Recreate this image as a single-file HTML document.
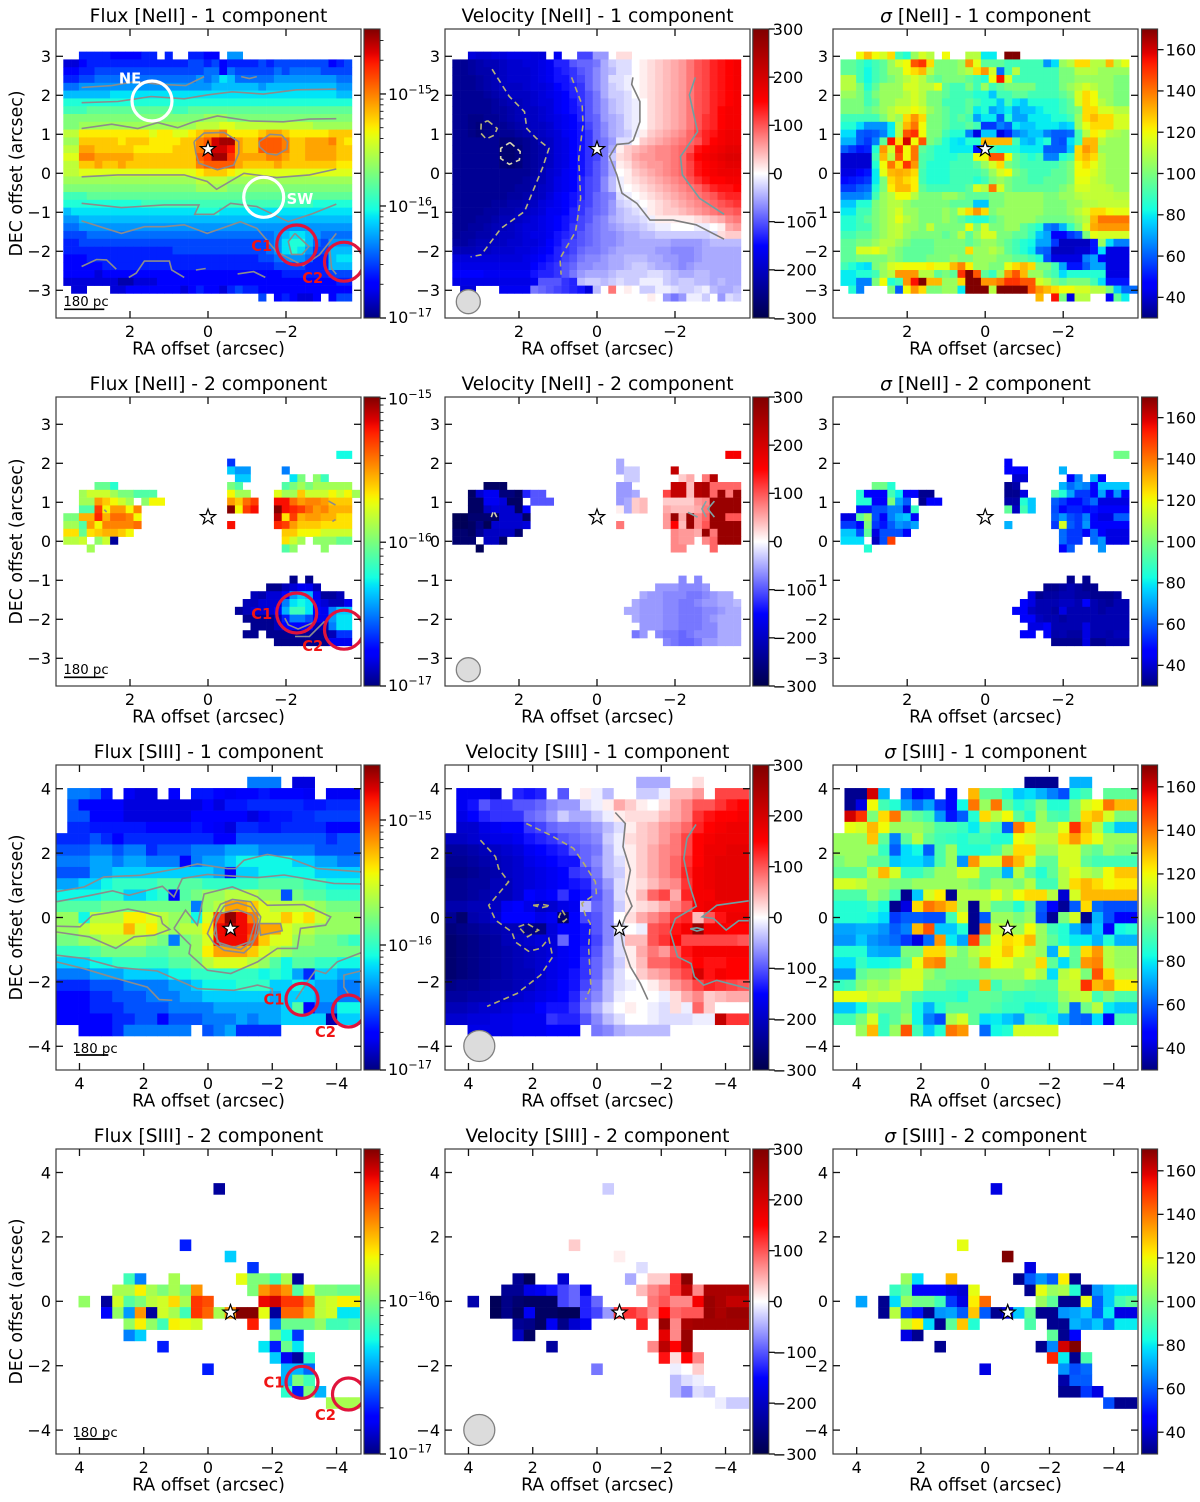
<!DOCTYPE html>
<html lang="en">
<head>
<meta charset="utf-8">
<title>[NeII] and [SIII] emission line maps</title>
<style>
html,body{margin:0;padding:0;background:#fff;}
svg{display:block;font-family:"DejaVu Sans","Liberation Sans",sans-serif;}
</style>
</head>
<body>
<svg id="chart" xmlns="http://www.w3.org/2000/svg" width="1200" height="1502" viewBox="0 0 1200 1502"></svg>
<script>
// Every heatmap row is a segment: [rowIndex, startColumn, value, value, ...]
// Flux values: tenths of a dex above 1e-17. Velocity values: units of 10 km/s. Sigma values: km/s.
const fluxNe1 = [
[0,2,4,4,4,4,3,3,3,3,4,4],[0,13,4],[0,16,4,4,3,3],[0,21,7,7],
[1,0,2,2,3,4,4,4,4,4,4,4,4,4,4,4,4,4,5,5,4,5,3,4,4,4,4,5,4,5,5,5,5,5,5,5,3,4,5],
[2,0,3,3,4,4,5,5,5,5,5,5,5,5,5,5,5,5,5,5,6,6,3,6,5,5,5,5,5,6,5,6,6,6,6,5,5,5,5],
[3,0,4,4,5,5,6,6,6,6,6,6,6,6,6,6,6,6,6,7,6,7,9,8,6,6,6,6,6,7,7,7,7,7,7,7,7,6,6],
[4,0,6,6,7,7,7,7,7,7,7,7,7,7,7,7,7,7,7,7,7,8,8,8,8,8,8,7,8,8,8,8,8,8,8,8,8,7,7],
[5,0, 8,8,8,8,8, 8,9,9,9,9, 9,9,9,9,9, 9,9,9,9,9, 9,9,9,9,9, 9,9,9,9,9, 9,9,9,9,9, 8,8],
[6,0, 10,10,10,10,10, 10,10,10,10,10, 10,10,10,10,10, 10,10,10,10,10, 10,10,10,10,10, 10,10,10,10,10, 10,10,10,10,10, 10,10],
[7,0, 11,11,11,12,12, 12,12,12,12,12, 12,12,12,12,11, 11,12,12,12,12, 12,12,12,12,12, 12,12,12,12,12, 12,12,12,12,12, 12,12],
[8,0, 13,13,13,13,13, 13,13,13,13,13, 13,13,13,13,13, 13,13,13,14,14, 14,13,13,13,13, 13,13,13,13,13, 13,13,13,13,13, 13,13],
[9,0,13,13,14,14,14,14,14,14,14,14,14,14,14,14,14,14,14,15,15,15,16,16,15,15,15,15,15,15,15,15,15,15,14,14,14,14,14],
[10,0,15,15,17,17,17,17,17,17,17,17,17,16,17,17,16,16,17,18,19,19,20,17,17,17,17,18,19,19,18,17,17,17,17,17,18,18,18],
[11,0,14,14,18,18,18,18,18,17,18,18,18,17,17,17,17,18,18,20,21,24,25,25,19,18,18,21,21,21,20,18,18,19,19,19,20,18,17],
[12,0,15,15,19,19,18,18,18,18,18,17,17,17,17,17,18,18,18,20,22,24,24,23,19,18,18,21,21,21,20,18,18,19,19,19,19,18,18],
[13,0,16,16,20,20,19,19,19,19,19,18,18,18,18,18,18,18,18,21,22,25,25,22,19,19,19,19,20,20,19,18,18,19,19,19,19,18,18],
[14,0,15,15,18,18,19,18,18,19,18,18,18,18,18,18,18,18,18,20,21,21,21,21,19,18,18,18,18,19,18,18,18,18,18,18,18,17,17],
[15,0, 15,15,16,16,16, 16,16,16,16,16, 16,16,16,16,16, 16,16,17,18,18, 18,17,16,16,16, 16,16,16,16,16, 16,16,16,16,16, 16,16],
[16,0, 14,14,14,14,14, 14,14,14,14,14, 14,14,14,14,14, 14,14,15,15,15, 15,14,14,14,14, 14,14,14,14,14, 14,14,14,14,14, 14,14],
[17,0, 13,13,13,13,13, 13,13,13,13,13, 13,13,13,13,13, 13,13,14,14,14, 14,13,13,13,13, 13,13,13,13,13, 13,13,13,13,13, 13,13],
[18,0, 11,11,11,12,12, 12,12,12,12,12, 12,12,12,12,12, 12,12,12,12,12, 12,12,12,12,12, 12,12,12,12,12, 12,12,12,12,12, 12,12],
[19,0, 10,10,10,10,10, 10,10,10,10,10, 11,11,11,11,11, 11,11,11,11,11, 11,11,11,11,11, 11,11,11,11,11, 11,11,10,10,10, 10,10],
[20,0, 8,9,9,9,9, 9,9,9,9,9, 9,9,9,9,9, 9,9,10,10,10, 9,9,9,9,9, 9,9,9,9,9, 9,9,9,9,9, 9,9],
[21,0, 7,7,8,8,8, 8,8,8,8,8, 8,8,8,8,8, 8,8,8,8,8, 8,8,8,8,8, 8,8,8,8,8, 8,8,8,8,8, 8,8],
[22,0, 6,6,7,7,7, 7,7,7,7,7, 7,7,7,7,7, 7,7,7,7,7, 7,7,7,7,7, 7,7,7,7,7, 7,7,7,7,7, 7,7],
[23,0,5,5,5,6,6,6,6,6,6,6,6,6,6,6,6,6,6,6,6,6,6,6,6,6,6,6,6,7,8,9,9,8,7,6,6,6,6],
[24,0,4,4,5,5,5,5,5,5,5,5,5,5,5,5,5,5,5,5,5,5,5,5,5,5,5,5,6,7,9,10,10,8,6,5,7,7,7],
[25,0,4,4,4,4,4,4,4,4,4,4,4,4,4,4,5,5,5,5,5,5,5,5,5,5,5,5,6,7,9,10,9,7,5,5,8,8,8],
[26,0,3,3,3,4,4,4,4,4,4,4,4,4,4,4,4,4,4,4,4,4,4,4,4,4,4,5,5,6,7,7,7,6,4,4,8,9,9],
[27,0,3,3,3,3,3,4,4,4,4,4,4,4,4,4,4,4,4,4,4,4,4,4,4,4,4,4,4,5,5,5,5,4,4,4,8,8,8],
[28,0,3,3,3,3,2,3,3,3,3,3,3,3,3,3,3,3,3,3,3,3,3,3,3,3,3,3,3,3,4,4,4,4,4,4,5,5,5],
[29,0,2,2,2,2,2,2,2,1,1,2,2,2,3,3,3,3,3,3,3,3,3,3,3,3,3,3,3,3,3,3,3,3,3,3,3,4,4],
[30,1,2,2],[30,6,2,2,3,3,3,3,3,3,3,2,3,4,3,3,2],[30,21,4,5,4,4,3,3,3,3,3,3,3,3,3,3,3,3],
[31,25,5],[31,27,3,4,3,2,2,3],[31,34,3,5,5]
];
const velNe1 = [
[0,2,-18,-19,-19,-18,-18,-17,-17,-17,-18,-18],[0,13,-16],[0,16,-11,-11,-6,-6],[0,21,2,2],
[1,0,-24,-24,-23,-22,-21,-21,-20,-19,-19,-18,-18,-17,-16,-13,-13,-10,-9,-9,-8,-5,-3,-2,-2,0,1,2,3,4,5,6,8,10,11,13,14,15,16],
[2,0,-24,-24,-23,-22,-22,-21,-20,-19,-19,-19,-18,-17,-16,-14,-13,-12,-10,-9,-7,-5,-4,-2,-2,0,1,2,3,4,5,6,8,10,11,13,14,15,16],
[3,0,-24,-24,-24,-23,-22,-21,-20,-19,-19,-19,-18,-17,-16,-14,-14,-12,-11,-9,-7,-5,-2,-2,-1,0,1,2,3,4,5,6,8,10,11,13,14,15,16],
[4,0,-24,-24,-24,-23,-22,-21,-20,-20,-20,-19,-18,-18,-17,-15,-14,-13,-12,-9,-7,-5,-3,-2,-1,0,1,2,3,4,5,6,8,10,11,13,14,15,16],
[5,0,-24,-24,-24,-24,-23,-22,-21,-20,-20,-20,-19,-18,-17,-16,-15,-13,-12,-10,-8,-5,-3,-3,-2,0,1,2,3,4,5,6,8,10,11,13,14,15,16],
[6,0,-24,-24,-24,-24,-24,-23,-22,-21,-21,-20,-19,-18,-18,-16,-15,-14,-12,-10,-8,-6,-4,-3,-2,-1,0,2,3,4,5,6,8,10,11,13,14,15,16],
[7,0,-24,-24,-24,-24,-24,-23,-23,-22,-21,-20,-20,-19,-18,-16,-15,-14,-13,-10,-8,-6,-4,-3,-2,-1,0,2,3,4,5,6,8,10,11,13,15,16,16],
[8,0,-24,-24,-25,-25,-24,-24,-23,-22,-21,-20,-20,-19,-18,-17,-16,-15,-13,-10,-9,-6,-5,-4,-2,-1,0,2,3,4,5,6,8,10,12,13,15,16,16],
[9,0,-24,-24,-25,-26,-25,-24,-24,-23,-22,-21,-20,-20,-19,-17,-16,-15,-14,-11,-9,-7,-5,-4,-2,-1,0,2,3,4,5,6,8,10,12,13,15,16,16],
[10,0,-24,-24,-25,-26,-25,-24,-24,-24,-23,-22,-21,-20,-19,-18,-16,-15,-14,-12,-9,-7,-5,-4,-3,-1,1,3,4,5,6,7,9,11,13,14,16,17,17],
[11,0,-24,-24,-24,-24,-24,-24,-26,-26,-25,-24,-23,-21,-20,-18,-17,-15,-14,-12,-9,-8,-6,-2,-2,0,3,4,5,6,7,8,9,10,13,15,16,17,17],
[12,0,-24,-24,-24,-24,-24,-24,-27,-27,-26,-24,-23,-22,-20,-18,-17,-15,-14,-12,-9,-8,-5,1,3,4,5,6,7,7,8,9,10,14,15,16,17,18,18],
[13,0,-24,-24,-24,-24,-24,-24,-27,-27,-26,-24,-23,-22,-20,-18,-17,-15,-14,-12,-11,-8,-3,2,3,5,6,6,7,7,8,9,12,15,16,17,18,19,19],
[14,0,-24,-24,-24,-24,-24,-24,-26,-27,-26,-24,-23,-22,-20,-18,-17,-15,-14,-12,-10,-8,-5,1,2,4,5,6,6,7,8,9,11,14,15,16,17,18,18],
[15,0,-24,-24,-24,-24,-24,-24,-24,-24,-24,-24,-23,-21,-19,-18,-16,-15,-14,-12,-10,-8,-5,0,1,3,4,5,6,7,8,9,11,14,15,16,17,17,17],
[16,0,-24,-24,-24,-24,-24,-24,-24,-24,-24,-23,-22,-21,-19,-17,-16,-15,-13,-11,-10,-7,-4,-1,1,2,3,4,5,6,7,8,10,12,14,15,15,16,16],
[17,0,-24,-24,-24,-24,-24,-24,-24,-24,-23,-23,-22,-20,-19,-17,-16,-15,-13,-11,-10,-7,-4,-1,0,1,2,3,4,5,6,7,8,9,11,13,14,14,15],
[18,0,-24,-24,-24,-24,-24,-24,-24,-23,-23,-22,-21,-20,-18,-16,-15,-14,-13,-11,-9,-8,-7,-2,-1,0,1,2,3,4,5,6,7,8,9,10,12,13,13],
[19,0,-24,-24,-24,-24,-24,-23,-23,-22,-22,-21,-20,-18,-17,-16,-15,-14,-12,-11,-9,-8,-6,-3,-2,-1,0,1,2,3,4,5,6,7,8,9,10,11,12],
[20,0,-24,-24,-24,-24,-23,-23,-22,-22,-21,-20,-19,-18,-16,-16,-15,-13,-12,-10,-9,-8,-6,-4,-3,-2,-1,1,2,3,3,4,5,6,7,8,9,9,10],
[21,0,-24,-24,-24,-23,-23,-22,-21,-21,-20,-19,-18,-17,-16,-15,-14,-13,-11,-10,-8,-7,-5,-4,-3,-3,-2,-1,1,1,1,1,1,2,3,4,5,7,8],
[22,0,-24,-24,-23,-23,-22,-21,-21,-20,-19,-18,-18,-17,-16,-15,-14,-12,-11,-9,-8,-7,-6,-5,-4,-4,-3,-2,-1,-1,0,0,0,-1,-1,0,1,5,6],
[23,0,-24,-23,-23,-22,-22,-21,-20,-20,-19,-18,-17,-17,-16,-14,-13,-12,-10,-9,-8,-7,-7,-6,-5,-5,-4,-4,-3,-3,-3,-3,-3,-3,-3,-2,2,3,3],
[24,0,-23,-23,-22,-21,-21,-20,-20,-19,-19,-18,-18,-17,-15,-14,-12,-11,-10,-9,-8,-7,-7,-6,-5,-5,-5,-5,-5,-5,-6,-6,-6,-6,-5,-4,-4,-4,-4],
[25,0,-21,-21,-21,-20,-20,-19,-19,-19,-18,-18,-17,-16,-15,-13,-12,-11,-9,-8,-8,-7,-6,-5,-5,-5,-5,-5,-6,-6,-7,-7,-7,-6,-5,-5,-5,-5,-5],
[26,0,-18,-18,-18,-18,-18,-18,-18,-18,-18,-17,-16,-15,-14,-13,-11,-10,-8,-7,-7,-6,-5,-5,-4,-4,-4,-5,-5,-6,-6,-7,-7,-6,-5,-5,-5,-5,-5],
[27,0,-17,-17,-17,-17,-17,-17,-17,-17,-17,-17,-15,-14,-13,-12,-10,-9,-7,-7,-6,-6,-5,-5,-4,-3,-3,-4,-5,-5,-6,-7,-6,-5,-5,-5,-5,-5,-5],
[28,0,-15,-15,-15,-15,-16,-16,-16,-16,-16,-16,-14,-13,-13,-12,-10,-8,-6,-5,-5,-5,-4,-3,-3,-3,-3,-2,-2,-3,-4,-5,-5,-4,-4,-5,-5,-5,-5],
[29,0,-17,-17,-17,-17,-17,-17,-17,-17,-17,-17,-16,-10,-10,-10,-12,-13,-4,-3,-3,-4,-3,-2,-3,-3,-1,-1,-1,-3,-4,-3,-3,-4,-4,-5,-4,-5,-5],
[30,1,-18,-18],[30,6,-16,-16,-16,-16,-8,-9,-10,-11,-12,-13,-14,-18,-4],[30,20,8,0,1,0,-3,-3,-1,-1,-2,-3,-3,-2,-1,-4,-5,-5,-4],
[31,25,1],[31,27,-6,-8,-6,-1,-1,-3],[31,34,-6,-2,-3]
];
const sigNe1 = [
[0,2,120,130,120,115,125,90,85,105,115,110],[0,13,120],[0,16,110,110,80,80],[0,21,170,170],
[1,0,95,95,90,85,90,95,105,115,120,145,150,125,100,100,100,105,135,118,95,95,95,90,90,90,90,90,68,78,105,110,125,125,110,110,130,110,118],
[2,0,95,95,90,82,90,95,105,105,120,125,130,110,100,100,100,105,110,125,135,115,62,90,110,90,90,90,90,90,100,100,110,110,110,105,105,105,105],
[3,0,110,110,90,82,90,95,100,105,110,115,110,100,95,100,100,100,95,90,85,120,155,115,90,90,90,90,90,90,100,100,105,105,105,105,105,100,100],
[4,0,110,110,100,85,95,105,105,105,115,115,110,110,118,95,90,90,100,90,105,90,95,100,100,100,100,90,90,90,100,105,110,115,110,105,105,100,100],
[5,0,105,105,100,90,100,105,105,105,110,115,110,100,100,95,90,90,90,85,85,75,90,90,95,95,90,90,90,90,95,100,115,125,120,105,105,100,100],
[6,0,100,100,100,90,95,105,105,110,110,115,110,100,100,90,90,90,95,90,85,85,75,90,80,75,85,85,85,85,90,95,115,125,120,110,105,100,100],
[7,0,100,100,100,95,100,105,110,115,115,120,115,105,100,95,90,90,95,80,85,70,75,80,70,75,75,80,85,85,90,95,100,125,125,115,115,110,110],
[8,0,90,90,90,90,90,100,110,105,125,135,125,100,100,95,90,95,90,70,80,80,60,85,70,70,80,80,80,85,85,90,105,125,130,125,125,115,115],
[9,0,85,85,78,68,68,68,80,110,130,140,120,100,100,95,90,90,95,90,55,55,65,60,80,75,75,80,80,80,75,78,105,118,125,125,125,115,115],
[10,0,78,78,60,58,60,65,80,110,145,150,120,100,100,90,85,85,65,42,75,75,42,52,65,70,75,75,65,60,60,62,90,110,122,118,110,108,105],
[11,0,72,72,60,55,65,95,155,125,160,120,145,100,95,85,80,78,85,85,130,130,130,130,90,75,72,80,85,60,58,78,90,130,130,110,105,105,105],
[12,0,60,55,50,52,85,135,115,150,120,140,95,90,85,85,80,80,80,50,50,90,85,85,85,80,80,80,60,60,60,75,125,135,130,105,105,105,105],
[13,0,40,40,40,40,90,130,110,145,120,140,92,90,85,85,85,90,90,120,120,145,145,120,95,90,85,90,65,65,85,90,125,130,125,110,105,105,105],
[14,0,40,40,40,40,85,120,140,125,150,135,92,85,85,85,90,90,90,95,105,115,125,100,95,90,90,90,90,90,95,100,120,125,118,110,105,105,105],
[15,0,42,42,45,50,80,118,130,132,130,125,90,85,85,85,90,90,90,90,95,105,115,120,100,95,90,90,90,95,95,100,120,120,115,110,105,105,105],
[16,0,48,50,52,55,80,100,125,130,125,122,90,85,85,85,90,90,90,85,90,100,105,100,95,95,90,90,95,95,95,100,118,118,112,110,105,105,105],
[17,0,55,55,60,62,85,100,122,130,130,122,95,90,90,90,90,90,95,115,110,140,115,100,95,95,95,95,95,95,100,105,115,115,112,112,110,105,105],
[18,0,65,65,65,68,90,105,110,120,120,110,100,100,100,105,105,100,95,95,95,100,100,105,105,105,105,105,100,100,105,105,110,112,112,112,112,110,110],
[19,0,75,75,85,85,100,105,110,110,105,100,100,100,100,100,95,95,95,75,75,100,100,105,105,105,105,105,100,100,100,105,105,110,110,112,112,112,112],
[20,0,80,80,90,90,100,105,110,115,105,105,100,100,100,105,100,115,125,135,125,100,105,105,105,105,105,105,100,100,100,105,110,115,125,125,120,118,118],
[21,0,85,85,90,95,100,105,110,118,110,105,100,100,100,105,100,95,88,85,85,95,100,105,105,105,105,100,98,98,98,100,105,110,130,140,140,140,140],
[22,0,85,85,90,90,100,105,110,112,105,105,100,112,100,100,100,100,120,100,115,100,100,105,105,95,90,85,65,62,72,88,100,115,132,135,135,135,135],
[23,0,90,90,95,95,100,105,110,112,105,100,100,100,100,95,100,110,95,105,115,115,100,100,95,95,88,75,70,45,45,55,60,100,118,115,115,115,115],
[24,0,95,95,100,100,105,110,110,105,100,95,95,95,100,100,100,100,95,100,105,105,100,95,90,85,82,70,70,55,38,38,38,38,50,105,78,65,65],
[25,0,95,95,115,115,118,112,105,100,95,95,95,95,100,100,100,100,125,105,105,110,105,95,90,85,80,62,60,38,38,38,40,40,50,78,42,42,42],
[26,0,95,95,100,100,100,100,105,100,95,95,95,100,100,100,105,100,100,105,105,105,100,100,95,95,90,85,58,42,42,42,42,65,70,45,42,42,42],
[27,0,90,85,80,78,100,105,115,118,120,120,120,122,118,118,130,138,122,105,105,100,100,118,125,130,125,100,100,90,70,50,50,60,70,70,42,42,42],
[28,0,80,80,85,85,90,105,110,135,135,135,110,110,95,100,95,150,170,145,95,88,105,135,145,130,105,105,95,90,78,85,85,85,85,85,42,42,42],
[29,0,80,80,65,65,100,120,85,90,135,155,170,130,130,105,105,125,170,170,135,135,140,150,150,145,145,115,110,100,95,100,100,100,90,78,50,50,50],
[30,1,85,65],[30,6,100,60,120,135,125,100,100,105,105,80,170,170,170,110],[30,20,170,170,170,170,145,135,130,125,120,120,115,115,110,110,100,75,62,62,62],
[31,25,130],[31,27,155,100,42,110,110],[31,34,45,95,80]
];
const fluxNe2 = [
[4,35,7.5,7.5],[5,21,3.5],[6,21,6.5,5.5,5.5],[6,28,5],[7,22,6.5,6.5],[7,29,7,10],[7,32,10.5,8.5],
[8,4,9.5,9.5,8],[8,21,10,9],[8,28,9,10,11,10,11,11,11,11,11],
[9,2,11,12,12,12,11,10,10],[9,9,9,9,9],[9,21,13,11,11],[9,27,12.5,11,11,14,12,12,12,13,12,13,11],
[10,2,11,11,15,14,13,12,11],[10,10,10.5,13,13],[10,21,15,14,16,17],[10,27,18,18,16,15,15.5,15.5,15,14,14,14],
[11,2,9,9,17,13,15,15,13,15.5],[11,21,20,13,17,18],[11,27,20,18,17.5,17,16,15,15.5,14.5,14.5,14.5],
[12,0,10,10,14.5,14.5,17.5,14.5,16,16,15.5,13],[12,27,19,13.5,17,14.5,15,15,14.5,14.5,13.5,13.5],
[13,0,11,11,9,15,13,15.5,15.5,15.5,15.5,16],[13,21,18],[13,27,17.5,17,15,14,14,14,13.5,13.5,13.5,13.5],
[14,0,13.5,13.5,9.5,13.5,14,14.5,14.5,14,13],[14,28,14,14,13,13,13,12,12,12,12],
[15,0,11.5,11.5,12],[15,4,10.5,12,0.5],[15,28,13.5,12,11],[15,32,10.5,10.5,10.5,9.5,9.5],
[16,3,11],[16,28,9,10.5],[16,33,10.5],
[20,29,0.2],[20,31,0.2],[21,26,0.2,0.2,1,1.5,2,2,1],[22,24,1,0.8,1.5,1.5,2.5,5.5,6.5,6,2,0.5,0.5,1],
[23,23,1,1,1.5,1.5,1.5,5,7,7.5,7,2,1.5,1,1,2],
[24,22,0.5,1,1.5,1.5,1.5,2.5,6,8.5,8.5,7,2.5,2,5,6.5,6.5],
[25,23,0.3,0.3,0.3,0.3,1,3,5,5,4,2,2,5.5,7,7],
[26,24,0.3,0.3,0.3,1,2.5,2.5,2.5,2.5,1,1,5,7,7],
[27,23,0.3,0.3],[27,26,0.3,0.3,0.3,0.3,0.3,0.5,0.3,0.3,1,3.5,3.5],
[28,27,0.2,0.2,0.2,0.2,0.2,0.2,0.2,2,2,2]
];
const velNe2 = [
[4,35,16,16],[5,21,-5],[6,21,-5,-3,-3],[6,28,22],[7,22,-3,-3],[7,29,3,5],[7,32,8,24],
[8,4,-28,-28,-28],[8,21,-6,-6],[8,28,22,22,4,24,25,9,9,9,9],
[9,2,-28,-19,-16,-16,-26,-26,-28],[9,9,-13,-10,-10],[9,21,-6,-6,-5],[9,27,11,22,22,4,24,25,9,27,8,27],
[10,2,-28,-28,-16,-16,-18,-28,-28],[10,10,-10,-10,-10],[10,21,-6,-5,3,4],[10,27,3,3,3,3,6,7,27,27,27,27],
[11,2,-28,-28,-20,-18,-19,-19,-28,-15],[11,21,1,-5,3,4],[11,27,5,4,4,4,5,8,27,27,27,27],
[12,0,-29,-29,-27,-27,-27,-28,-19,-19,-19,-28],[12,27,6,27,5,27,7,9,27,27,10,10],
[13,0,-29,-29,-28,-25,-29,-19,-19,-19,-19,-18],[13,21,8],[13,27,6,15,4,27,7,10,27,27,27,27],
[14,0,-27,-27,-28,-24,-20,-20,-20,-20,-27],[14,28,7,6,6,5,27,8,27,27,27],
[15,0,-27,-27,-27],[15,4,-20,-20,-28],[15,28,7,6,6],[15,32,7,9,27,27,27],
[16,3,-29],[16,28,7,7],[16,33,9],
[20,29,-7],[20,31,-7],[21,26,-6,-6,-6,-7,-7,-7,-6],[22,24,-5,-6,-6,-7,-7,-7,-8,-8,-7,-6,-5,-5],
[23,23,-5,-6,-6,-6,-7,-7,-8,-8,-7,-6,-6,-5,-5,-4],
[24,22,-5,-5,-6,-6,-6,-7,-7,-8,-8,-8,-7,-7,-6,-5,-5],
[25,23,-5,-6,-6,-6,-7,-7,-8,-8,-8,-7,-6,-5,-5,-5],
[26,24,-6,-6,-6,-7,-7,-8,-8,-8,-7,-7,-5,-5,-5],
[27,23,-8,-6],[27,26,-7,-8,-8,-9,-8,-7,-7,-7,-5,-5,-5],
[28,27,-7,-8,-9,-9,-8,-6,-6,-5,-5,-5]
];
const sigNe2 = [
[4,35,98,98],[5,21,45],[6,21,47,47,47],[6,28,72],[7,22,40,40],[7,29,47,65],[7,32,72,47],
[8,4,98,98,85],[8,21,32,35],[8,28,72,62,68,65,48,75,75,75,75],
[9,2,85,47,45,45,90,80,45],[9,9,47,32,32],[9,21,32,32,42],[9,27,92,85,70,55,55,45,70,45,68,45],
[10,2,85,85,45,45,100,70,60],[10,10,32,45,45],[10,21,35,35,85,75],[10,27,60,55,48,48,55,62,42,42,42,42],
[11,2,50,50,58,58,65,65,42,88],[11,21,95,38,90,75],[11,27,58,45,52,52,48,50,45,45,45,45],
[12,0,42,42,95,105,58,45,65,72,75,45],[12,27,60,68,58,55,65,45,42,42,60,60],
[13,0,55,55,45,100,55,50,60,68,65,70],[13,21,72],[13,27,55,115,60,55,68,45,45,45,45,45],
[14,0,75,75,58,95,42,58,58,58,45],[14,28,62,55,55,45,62,45,42,42,42],
[15,0,78,78,78],[15,4,38,58,148],[15,28,62,55,55],[15,32,62,68,42,42,42],
[16,3,85],[16,28,45,60],[16,33,68],
[20,29,32],[20,31,32],[21,26,32,32,34,36,34,32,32],[22,24,42,32,34,34,36,36,34,34,32,32,32,34],
[23,23,45,42,36,36,36,38,38,36,45,36,34,33,36,36],
[24,22,45,45,38,36,36,34,42,36,36,36,36,34,36,36,36],
[25,23,45,45,38,36,36,34,36,36,36,36,36,36,36,36],
[26,24,42,42,45,36,36,36,36,42,36,36,36,36,36],
[27,23,45,45],[27,26,45,35,36,34,34,42,36,36,35,37,37],
[28,27,32,32,32,32,42,32,32,35,35,35]
];
const fluxS1 = [
[0,17,6,6,6],[0,21,2,2],
[1,1,6,6,5.5,3.5],[1,6,2.5,2,2],[1,10,3],[1,12,3.5,3.5,3,2.5,3,3,3.5,3,3,3,2.5],[1,24,2.5,2.5,2.5],
[2,1,5,3,3,3,3,2,2,2,2,2,2,2,3,2,3.5,3.5,4,4,4,4,4,3.5,3.5,4,4,4],
[3,1,5,5,3,3,3,2,2,2,2,2,2,3,3,3,3,3,2,3,3.5,3.5,4,4,4.5,4.5,4.5,4.5],
[4,1,4,4,3.5,3.5,3.5,3.5,3.5,3,3,3,3,3.5,3,2.5,2,4,4,3.5,3.5,4,4,4,4,3,3,3],
[5,0,4,4,4,5,4,3,4,4,4,4,4,4,4,4,3,3,5,5,5,5,5,5,5,5,4,5,5],
[6,0,5,5,5,6,6,5,6,6,4,5,5,5,6,6,6,7,7,7,6,6,6,6,6,5,5,5,5],
[7,0,6,6,6,7,7,6,7,7,6,6,6,3,6,7,7,8,9,9,9,9,9,8,8,7,7,6,6],
[8,0,5,5,5,7,7,8,8,8,8,8,8,8,8,8,7,3,8,8,9,9,9,9,9,8,8,8,8],
[9,0,7,7,8,8,9,10,10,10,10,11,11,11,11,10,10,10,10,10,11,11,11,11,10,10,9,9,9],
[10,0,9,9,9,9,10,10,8,8,9,10,3,11,12,13,13,14,14,14,13,13,5,12,11,11,10,10,10],
[11,0,11,11,11,11,12,12,12,12,12,12,12,12,6,13,14,18,18,17,15,14,14,14,14,13,12,12,12],
[12,0,13,13,9,14,14,14,16,16,15,14,13,13,9,15,21,24,22,19,15,15,17,15.5,16.5,14.5,13,13,13],
[13,0,13,13,14,15,15,15,17.5,15,16,14,13,14,14,16,22,23,22,21,18,18,15,14,14,13,13,13,13],
[14,0,12,12,13,13,14,14,14,14,13,12,6,12,13,15,22,22,22,20,17,15,15,13,13,12,12,11,10],
[15,0,10,10,10,11,12,12,12,12,11,11,12,12,13,16,18,18,18,17,15,14,13,12,12,12,12,12,12],
[16,0,8,8,8,9,9,10,10,10,10,10,11,11,12,14,15,15,15,14,13,11,9,11,11,10,10,9,9],
[17,0,6,6,6,7,7,7,8,8,8,8,9,9,10,10,10,10,10,10,9,10,9,7,4,8,8,7,7],
[18,0,4,4,4,5,5,5,6,6,6,6,7,7,8,9,9,9,10,10,10,8,8,9,8,7,7,6,6],
[19,0,3,3,3,4,4,5,5,5,6,6,6,7,7,8,8,8,8,8,8,7,8,8,8,7,7,6,6],
[20,0,3,3,3,4,4,4,5,5,5,5,6,6,6,6,7,7,7,7,7,7,8,11,3,6,6,9,9],
[21,0,3,3,3,3,3,4,4,5,5,3,5,5,5,6,6,6,7,6,7,7,8,8,8,8,1,8,8],
[22,2,3,3,3,4,6,6,6,6,6,6],[22,13,5,6,7,4,4,4,4]
];
const velS1 = [
[0,17,-5,-5,-5],[0,21,0,2],
[1,1,-16,-16,-16,-19],[1,6,-13,-14,-13],[1,10,-10],[1,12,1,-1,-4,0,0,-3,-3,-1,4,4,6],[1,24,11,11,11],
[2,1,-16,-14,-10,-12,-12,-10,-10,-9,-7,-6,-6,-2,-1,1,5,3,1,0,2,5,7,10,10,12,14,15],
[3,1,-17,-15,-13,-12,-12,-12,-9,-8,-6,-3,-5,-5,-3,-1,1,2,2,2,4,5,7,12,14,15,15,16],
[4,1,-19,-19,-17,-16,-15,-15,-12,-11,-9,-8,-8,-7,-6,-4,-2,1,3,4,6,7,9,13,15,16,17,17],
[5,0,-20,-20,-19,-18,-17,-17,-16,-14,-13,-12,-10,-9,-8,-7,-3,-1,2,3,4,6,8,11,15,16,17,17,17],
[6,0,-23,-23,-22,-21,-20,-19,-18,-16,-15,-14,-13,-10,-9,-8,-4,-1,1,3,5,7,8,11,15,17,17,18,18],
[7,0,-24,-24,-23,-22,-21,-20,-19,-17,-16,-15,-14,-14,-9,-7,-4,-2,1,3,5,7,9,12,15,17,18,18,18],
[8,0,-25,-25,-24,-23,-22,-20,-19,-18,-17,-16,-15,-12,-11,-8,-4,-3,1,3,5,7,9,13,16,17,18,18,18],
[9,0,-24,-24,-23,-23,-21,-21,-19,-18,-17,-16,-15,-14,-13,-9,-6,-2,1,2,4,6,7,12,16,17,18,18,18],
[10,0,-24,-24,-23,-22,-21,-21,-19,-15,-16,-15,-12,-15,-14,-10,-7,-2,1,4,9,11,5,13,16,16,18,18,18],
[11,0,-22,-22,-21,-21,-20,-16,-15,-17,-20,-19,-17,-16,-4,-9,-7,-3,1,2,3,5,7,10,16,17,16,16,16],
[12,0,-24,-27,-22,-21,-19,-15,-15,-15,-17,-16,-27,-15,-11,-10,-7,0,2,5,7,9,12,13,4,10,14,17,17],
[13,0,-26,-25,-24,-23,-22,-21,-21,-25,-25,-18,-15,-15,-14,-10,-7,-2,0,-1,10,11,14,16,27,16,16,15,15],
[14,0,-27,-26,-25,-24,-23,-21,-20,-19,-18,-18,-9,-15,-14,-11,-7,-2,4,4,10,12,15,11,11,11,11,11,10],
[15,0,-27,-26,-25,-24,-23,-22,-21,-20,-19,-18,-16,-15,-13,-10,-6,-2,1,5,8,6,10,14,16,16,16,16,16],
[16,0,-27,-26,-25,-24,-23,-22,-21,-20,-19,-17,-16,-15,-12,-9,-6,-3,1,4,9,9,11,13,15,14,14,15,15],
[17,0,-27,-26,-25,-24,-23,-22,-21,-21,-19,-17,-16,-14,-12,-9,-5,-2,0,3,5,6,9,11,20,14,16,15,15],
[18,0,-25,-24,-24,-23,-22,-22,-21,-20,-18,-17,-15,-14,-11,-8,-4,-2,-1,0,1,3,6,8,11,13,12,11,10],
[19,0,-23,-23,-22,-22,-21,-20,-19,-18,-17,-16,-15,-13,-9,-7,-4,-1,0,0,0,-1,2,5,7,3,4,5,5],
[20,0,-21,-21,-20,-19,-19,-18,-17,-17,-15,-14,-14,-12,-8,-5,-2,0,1,0,-1,-2,2,-1,9,3,0,0,0],
[21,0,-19,-19,-18,-18,-17,-17,-16,-16,-16,-12,-13,-13,-10,-7,-4,-2,0,0,-1,-2,-2,-2,-1,-1,22,12,12],
[22,2,-17,-17,-17,-17,-16,-16,-16,-15,-15,-15],[22,13,-8,-7,-5,-4,-4,-4,-4]
];
const sigS1 = [
[0,17,32,32,32],[0,21,72,72],
[1,1,32,32,160,72],[1,6,60,45,50],[1,10,45],[1,12,130,95,95,85,75,78,72,65,58,85,90],[1,24,95,95,95],
[2,1,32,42,120,90,85,70,62,70,55,48,82,140,105,140,95,85,90,100,85,85,100,115,120,140,130,130],
[3,1,160,150,100,125,140,100,95,90,68,50,60,85,125,110,120,95,85,105,92,90,100,125,130,115,100,100],
[4,1,118,115,130,120,105,105,105,100,92,92,88,80,95,90,60,140,125,105,105,118,150,130,110,88,75,75],
[5,0,105,105,105,128,95,65,95,110,95,90,88,85,90,90,85,85,120,115,110,110,125,135,125,118,105,105,105],
[6,0,105,105,105,105,88,60,78,82,60,92,105,85,85,85,92,105,125,125,105,105,115,115,100,95,105,100,100],
[7,0,100,105,105,95,95,75,78,78,72,92,105,68,135,115,115,140,130,115,95,95,115,115,95,90,90,90,90],
[8,0,95,95,95,110,130,115,88,88,95,105,105,115,115,95,95,72,110,95,85,95,110,118,110,105,120,128,128],
[9,0,115,115,112,105,105,100,100,105,105,105,105,105,100,95,105,105,100,110,90,90,110,125,130,125,120,122,122],
[10,0,92,92,92,105,100,90,32,75,115,122,32,110,110,110,118,108,120,125,125,110,40,115,130,130,130,130,130],
[11,0,85,85,85,90,82,32,42,125,140,135,128,108,32,108,95,95,85,100,60,45,33,60,125,62,58,58,58],
[12,0,85,85,85,82,78,55,60,60,58,58,90,118,32,60,105,105,100,105,58,33,100,115,32,72,58,45,45],
[13,0,70,70,72,72,68,60,65,130,145,75,75,85,32,140,112,110,105,120,105,90,85,72,62,75,45,82,85],
[14,0,68,68,75,68,65,62,55,42,62,135,80,70,148,100,118,125,122,130,105,95,85,80,80,72,85,72,72],
[15,0,85,85,85,72,70,70,100,100,125,125,110,100,110,115,120,128,120,110,105,72,115,95,125,135,110,105,105],
[16,0,78,78,88,82,82,85,95,118,135,138,100,100,105,130,120,118,108,108,125,95,78,95,135,138,110,105,105],
[17,0,68,68,95,100,100,105,115,115,105,98,100,100,100,102,105,105,105,115,108,78,110,115,100,145,125,110,110],
[18,0,88,90,102,108,105,112,115,115,100,100,92,90,90,130,90,100,100,95,92,92,112,112,150,130,135,122,122],
[19,0,118,118,118,112,115,115,100,92,88,88,88,85,95,95,95,90,88,88,90,90,105,110,112,90,100,92,92],
[20,0,75,75,82,100,95,95,100,82,72,85,95,95,95,95,92,88,88,82,82,85,100,62,98,110,80,75,75],
[21,0,90,90,100,115,88,95,105,82,65,58,108,115,95,78,80,75,70,92,90,82,72,62,60,78,45,90,90],
[22,2,105,130,88,105,145,90,75,85,140,135],[22,13,62,82,85,115,115,115,115]
];
const fluxS2 = [
[2,14,0.5],[7,11,3],[8,15,6.5],[9,17,3.5],
[10,6,8.5,5],[10,10,11],[10,16,12.5,10,10,8.5,11,0.5],
[11,5,11,11,13,11,10,11,10,15],[11,17,10,15,16,15,9,12,10,10,9.5,9.5],
[12,2,10.5],[12,4,0.5,12,9,10,11.5,12,13.5,11,17,16.5],[12,18,18,18.5,17,17,15.5,11.5,12,13,13],
[13,4,2.5,10.5,5.5,15,0.5,12,11,8.5,17,16,11,15,19.8,19.8,12.5,0.5,16,16,14.5,11.5,12,7,7],
[14,6,10.5,13,10.5,8.5,13,12.5,12],[14,17,17.5],[14,19,5,9.5,9.5,9.5,10.5,8.5,8.5,9],
[15,6,5,6.5],[15,19,10,7.5,3.5],[16,9,3],[16,18,7,3,9.5,7],[17,19,6.5,2,0.5,8],
[18,13,3],[18,20,6,6,4.5],[19,20,6,10,8.5],[20,20,8,3,10,6],[21,24,11,11,11]
];
const velS2 = [
[2,14,-3],[7,11,3],[8,15,1],[9,17,-2],
[10,6,-24,-29],[10,10,-19],[10,16,-5,0,3,3,12,29],
[11,5,-24,-24,-17,-16,-14,-11,-9,-16],[11,17,4,7,9,12,23,7,25,25,25,25],
[12,2,-22],[12,4,-29,-25,-27,-28,-28,-28,-11,-9,-13,-9],[12,18,8,10,7,7,16,27,25,22,22],
[13,4,-29,-25,-28,-16,-28,-28,-29,-29,-13,-11,-6,12,12,10,7,15,9,10,10,27,25,27,27],
[14,6,-24,-25,-28,-16,-25,-19,-16],[14,17,13],[14,19,27,7,25,26,26,26,26,26],
[15,6,-20,-28],[15,19,18,7,27],[16,9,-23],[16,18,7,23,15,27],[17,19,14,2,15,7],
[18,13,-8],[18,20,-1,0,3],[19,20,-4,-2,-1],[20,20,-4,-7,-2,-3],[21,24,-1,-3,-3]
];
const sigS2 = [
[2,14,42],[7,11,118],[8,15,170],[9,17,42],
[10,6,105,78],[10,10,130],[10,16,32,60,68,60,122,32],
[11,5,88,95,45,45,45,42,40,118],[11,17,32,118,105,108,85,32,68,75,80,80],
[12,2,70],[12,4,32,78,105,98,98,90,55,42,122,142],[12,18,105,95,32,32,118,60,75,90,95],
[13,4,32,110,55,50,32,68,70,60,128,60,32,42,75,95,32,32,68,70,75,60,80,42,42],
[14,6,112,122,78,32,95,128,85],[14,17,92],[14,19,32,32,72,68,75,62,80,80],
[15,6,42,32],[15,19,95,32,45],[16,9,32],[16,18,32,66,160,170],[17,19,152,80,32,92],
[18,13,42],[18,20,68,58,62],[19,20,35,60,60],[20,20,32,32,55,42],[21,24,58,32,32]
];
// Contours: lists of [RA, DEC] in arcsec.
const contoursFluxNe1 = [
[[3.24,2.2],[2.47,2.25],[1.88,2.35],[1.2,2.28],[.57,2.25],[.1,2.48]],
[[-.85,2.48],[-1.06,2.43],[-1.25,2.48]],
[[3.24,1.81],[2.31,1.84],[1.46,1.97],[.61,1.91],[.02,2.01],[-.62,2.09],[-1.42,2.03],[-2.27,2.14],[-3.29,2.16]],
[[3.24,1.15],[2.47,1.26],[1.8,1.15],[1.29,1.3],[.78,1.17],[.36,1.32],[-.24,1.47],[-1.09,1.34],[-1.93,1.32],[-2.6,1.39],[-3.29,1.4]],
[[3.24,-.09],[2.31,-.04],[.61,-.04],[.02,-.21],[-.22,-.41],[-.92,0],[-1.76,-.11],[-2.6,-.04],[-3.29,.11]],
[[3.24,-.77],[2.22,-.88],[1.12,-.81],[.23,-.81],[.34,-1.05],[-.15,-1.05],[-.58,-.77],[-1.25,-.85],[-2.06,-1.24],[-2.69,-1.03],[-3.29,-.79]],
[[3.24,-1.22],[2.22,-1.54],[1.63,-1.37],[1.12,-1.37],[.61,-1.32],[.02,-1.54],[-.83,-1.24],[-1.25,-1.41],[-1.76,-2.01],[-2.44,-2.37],[-2.86,-2.09],[-3.29,-1.54]],
[[-2.23,-1.54],[-2.59,-1.88],[-2.41,-2.08],[-2.14,-2.08],[-2.06,-1.75],[-2.23,-1.54]],
[[-3.12,-1.92],[-3.17,-2.44],[-3.29,-2.59]],
[[3.24,-2.39],[2.86,-2.21],[2.6,-2.22],[2.35,-2.46]],
[[2.03,-2.67],[1.84,-2.56],[1.63,-2.25],[.99,-2.25],[.93,-2.48],[.61,-2.67]],
[[.31,-2.48],[.06,-2.44]],
[[-.76,-2.58],[-1.17,-2.52],[-1.47,-2.67]],
[[.36,.81],[.1,1.03],[-.41,1.05],[-.79,.81],[-.79,.51],[-.66,.21],[-.24,.09],[.23,.26],[.31,.51],[.36,.81]],
[[-1.31,.81],[-1.59,1.0],[-1.89,.98],[-2.04,.81],[-2.02,.62],[-1.76,.47],[-1.51,.51],[-1.32,.68],[-1.31,.81]]
];
const contoursVelNe1Minus200 = [
[[2.69,2.67],[2.25,1.97],[1.86,1.58],[1.8,1.15],[1.56,.9],[1.23,.64],[1.4,.13],[1.86,-.98],[2.46,-1.41],[2.97,-2.09],[3.24,-2.14]],
[[2.8,1.35],[2.56,1.15],[2.63,.98],[2.84,.88],[2.98,1.03],[2.97,1.28],[2.8,1.35]]
];
const contoursVelNe1Inner = [[[2.23,.79],[1.97,.56],[1.99,.34],[2.25,.23],[2.47,.38],[2.47,.64],[2.23,.79]]];
const contoursVelNe1Minus100 = [[[.65,2.46],[.38,1.75],[.36,1.24],[.47,.38],[.42,-.64],[.55,-1.5],[.95,-2.18],[.92,-2.6]]];
const contoursVelNe1Zero = [[[-.92,2.46],[-.89,2.28],[-1.1,1.84],[-1.1,1.32],[-.93,.85],[-.81,.77],[-.51,.74],[-.32,.43],[-.51,-.04],[-.64,-.51],[-1.02,-.77],[-1.36,-1.2],[-1.95,-1.2],[-2.54,-1.32],[-3.26,-1.69]]];
const contoursVelNe1Plus100 = [[[-2.52,2.46],[-2.37,2.01],[-2.58,1.07],[-2.14,.43],[-2.19,-.04],[-2.63,-.64],[-3.26,-1.05]]];
const contoursFluxNe2 = [
[[-1.97,-1.97],[-2.06,-2.14],[-2.31,-2.25],[-2.69,-2.09]],
[[-2.23,-2.44],[-2.6,-2.44],[-2.99,-2.05]],
[[-3.09,1.03],[-3.27,.93]],[[-3.19,.51],[-3.27,.56]],[[2.66,.81],[2.6,.75]]
];
const contoursVelNe2Teal = [
[[-2.33,.74],[-2.58,.62]],
[[-2.8,1.03],[-2.69,.83],[-2.8,.62]],
[[-3.01,1.03],[-2.84,.83],[-3.01,.62]]
];
const contoursVelNe2Light = [[[2.71,.62],[2.67,.74]],[[2.63,.74],[2.57,.62]]];
const contoursFluxS1 = [
[[4.71,.8],[3.85,.95],[3.24,1.26],[2.1,1.31],[.95,1.52],[.33,1.66],[-.6,1.52],[-.86,1.52],[-1.12,1.78],[-1.85,1.96],[-2.57,1.83],[-3.4,1.52],[-4.75,1.42]],
[[4.71,.49],[3.65,.69],[2.97,.83],[2.46,.69],[1.42,.97],[1.06,.64],[.8,1.21],[.02,1.34],[-1.54,1.24],[-2.37,1.32],[-3.92,1.06],[-4.75,1.04]],
[[4.71,-.27],[3.98,-.29],[3.6,.07],[3.08,.15],[2.49,.26],[1.94,.15],[1.47,.02],[1.42,-.19],[1.19,-.37],[1.68,-.55],[2.3,-.6],[2.87,-.96],[3.7,-.6],[4.71,-.45]],
[[1.06,-.34],[.7,.23],[.33,-.24],[.12,.73],[-.76,.95],[-1.54,.64],[-1.85,.38],[-2.99,.4],[-3.82,.02],[-3.66,-.24],[-2.88,-.34],[-2.78,-.96],[-2.16,-.96],[-1.54,-1.38],[-.71,-1.74],[.02,-1.64],[.59,-1.12],[.54,-.86],[1.06,-.34]],
[[-.19,.02],[-.39,.41],[-.76,.56],[-1.33,.49],[-1.64,.02],[-1.54,-.5],[-1.33,-.91],[-1.12,-1.1],[-.5,-1.02],[-.19,-.81],[.02,-.5],[-.19,.02]],
[[-.29,.02],[-.5,.35],[-.91,.46],[-1.33,.33],[-1.56,-.03],[-1.43,-.7],[-1.02,-.99],[-.39,-.86],[-.19,-.5],[-.29,.02]],
[[-.24,-.19],[-.39,.12],[-.91,.25],[-1.38,.07],[-1.45,-.19],[-1.28,-.76],[-.81,-.93],[-.29,-.76],[-.24,-.19]],
[[-1.59,-.19],[-2.26,-.19],[-2.31,-.41],[-1.64,-.55],[-1.59,-.19]],
[[4.71,-1.17],[3.86,-1.27],[2.82,-1.55],[1.58,-1.66],[.33,-2.21],[-.81,-2.26],[-1.54,-2.1],[-2.0,-2.21],[-2.0,-2.36]],
[[4.71,-1.38],[3.86,-1.59],[2.82,-1.9],[1.89,-2.16],[1.52,-2.55],[1.11,-2.57]],
[[-2.73,-2.55],[-3.09,-2.0],[-3.35,-1.64],[-3.66,-1.74],[-4.02,-1.38],[-4.75,-1.1]],
[[-4.75,-1.66],[-4.23,-1.79],[-4.23,-2.16],[-4.39,-2.41]]
];
const contoursVelS1Dashed = [
[[2.2,2.92],[1.45,2.56],[.73,2.15],[.41,1.68],[.05,1.11],[.02,.75],[.47,.44],[.36,.07],[.21,-.19],[.26,-.91],[.19,-2.16],[.36,-2.55]],
[[3.63,2.4],[3.16,1.89],[3.06,1.52],[2.75,1.11],[3.37,.38],[3.16,-.08],[2.65,-.45],[2.54,-.76],[2.13,-1.05],[1.76,-.96],[1.5,-.65],[1.38,-1.22],[1.76,-1.79],[2.49,-2.36],[3.42,-2.76]],
[[1.99,.38],[1.71,.41],[1.45,.36],[1.71,.31],[1.99,.38]],
[[1.09,.23],[.93,-.03],[1.04,-.13],[1.19,.02],[1.09,.23]],
[[2.44,-.29],[2.18,-.19],[1.82,-.39],[2.16,-.6],[2.44,-.29]]
];
const contoursVelS1Zero = [[[-.57,3.26],[-.88,2.92],[-.81,2.2],[-1.04,1.47],[-.91,.8],[-1.09,.35],[-.88,.02],[-.73,-.39],[-.81,-.86],[-1.04,-1.53],[-1.35,-2.05],[-1.58,-2.55]]];
const contoursVelS1Plus100 = [
[[-3.08,2.89],[-2.8,2.46],[-2.7,1.83],[-2.85,1.11],[-3.09,.35],[-2.44,-.03],[-2.28,-.45],[-2.51,-1.22],[-2.93,-1.43],[-3.03,-1.84],[-3.32,-2.1],[-3.73,-1.95],[-4.72,-2.21]],
[[-4.72,.52],[-3.73,.38],[-3.27,.02],[-3.63,-.03],[-4.02,-.39],[-4.41,-.1],[-4.72,-.1]],
[[-2.9,-.35],[-3.11,-.32],[-3.32,-.37],[-3.11,-.42],[-2.9,-.35]]
];
const velTicks = [-300,-200,-100,0,100,200,300];
const sigTicks = [40,60,80,100,120,140,160];
const neAxisX = [2,0,-2];
const neAxisY = [3,2,1,0,-1,-2,-3];
const sAxis = [4,2,0,-2,-4];

const svg = document.getElementById('chart');
const NS = 'http://www.w3.org/2000/svg';
function mk(tag, attrs, name, parent){
  const el = document.createElementNS(NS, tag);
  for (const k in attrs) el.setAttribute(k, attrs[k]);
  
  
  (parent || svg).appendChild(el);
  return el;
}
function label(str, x, y, size, anchor, name, parent, extra){
  const t = mk('text', Object.assign({x:x, y:y, 'font-size':size, 'text-anchor':anchor, fill:'#000'}, extra||{}), name, parent);
  t.textContent = str;
  return t;
}
function interp(stops, t){
  for (let i=1;i<stops.length;i++){ if (t<=stops[i][0]){
    const a=stops[i-1], b=stops[i]; return a[1]+(b[1]-a[1])*(t-a[0])/(b[0]-a[0]); } }
  return stops[stops.length-1][1];
}
const jetR=[[0,0],[.35,0],[.66,1],[.89,1],[1,.5]];
const jetG=[[0,0],[.125,0],[.375,1],[.64,1],[.91,0],[1,0]];
const jetB=[[0,.5],[.11,1],[.34,1],[.65,0],[1,0]];
const seiR=[[0,0],[.25,0],[.5,1],[.75,1],[1,.5]];
const seiG=[[0,0],[.25,0],[.5,1],[.75,0],[1,0]];
const seiB=[[0,.3],[.25,1],[.5,1],[.75,0],[1,0]];
function rgb(r,g,b){ return 'rgb('+Math.round(r*255)+','+Math.round(g*255)+','+Math.round(b*255)+')'; }
function cl(t){ return Math.max(0,Math.min(1,t)); }
function jet(t){ t=cl(t); return rgb(interp(jetR,t),interp(jetG,t),interp(jetB,t)); }
function seismic(t){ t=cl(t); return rgb(interp(seiR,t),interp(seiG,t),interp(seiB,t)); }

const colLeft=[56,445,833], colZero=[208,597,985.2], barLeft=[364,752.8,1141.6];
const rowSpec=[
 {top:29,bottom:318,zero:173.3,grid:'ne',fmax:25.8,line:'Ne',comp:1},
 {top:397,bottom:686,zero:541.3,grid:'ne',fmax:20.1,line:'Ne',comp:2},
 {top:765,bottom:1070,zero:917.5,grid:'s',fmax:24.4,line:'S',comp:1},
 {top:1149,bottom:1454,zero:1301.3,grid:'s',fmax:19.9,line:'S',comp:2}
];
const grids={
 ne:{sx:39,sy:39,ra0:3.71,dec0:3.12,cell:.2,starRa:0,starDec:.62,ticksX:neAxisX,ticksY:neAxisY},
 s:{sx:32.13,sy:32.2,ra0:4.73,dec0:4.37,cell:.35,starRa:-.7,starDec:-.35,ticksX:sAxis,ticksY:sAxis}
};
const maps=[[fluxNe1,velNe1,sigNe1],[fluxNe2,velNe2,sigNe2],[fluxS1,velS1,sigS1],[fluxS2,velS2,sigS2]];
const kinds=['flux','velocity','sigma'];
const axisW=305;
const AXC='#3a3a3a';

const contourSets={
 '0-0':[[contoursFluxNe1,'#8c8c8c',null]],
 '0-1':[[contoursVelNe1Minus200,'#b9b57a','6 4'],[contoursVelNe1Inner,'#d9d6b0','6 4'],[contoursVelNe1Minus100,'#b4ae6c','6 4'],[contoursVelNe1Zero,'#7d7d7d',null],[contoursVelNe1Plus100,'#6fa0a2',null]],
 '1-0':[[contoursFluxNe2,'#8c8c8c',null]],
 '1-1':[[contoursVelNe2Teal,'#7fa5a7',null],[contoursVelNe2Light,'#d5d2ac',null]],
 '2-0':[[contoursFluxS1,'#8c8c8c',null]],
 '2-1':[[contoursVelS1Dashed,'#b4ae6c','6 4'],[contoursVelS1Zero,'#7d7d7d',null],[contoursVelS1Plus100,'#6fa0a2',null]]
};

function panelTitle(kind,spec){
  const lineName=spec.line==='Ne'?'[NeII]':'[SIII]';
  const suffix=' '+lineName+' - '+spec.comp+' component';
  if(kind==='flux') return {lead:'Flux',text:suffix};
  if(kind==='velocity') return {lead:'Velocity',text:suffix};
  return {lead:'σ',text:suffix,italic:true};
}

rowSpec.forEach(function(spec,ri){
  const g=grids[spec.grid];
  for(let ci=0;ci<3;ci++){
    const kind=kinds[ci];
    const left=colLeft[ci], top=spec.top, h=spec.bottom-spec.top;
    const x=function(ra){return colZero[ci]-g.sx*ra;};
    const y=function(dec){return spec.zero-g.sy*dec;};
    const panelName=kind+'-'+(spec.line==='Ne'?'neii':'siii')+'-'+spec.comp+'-component';
    const panel=mk('g',{},panelName+'-panel');
    const clipId='clip-'+ri+'-'+ci;
    const defs=mk('defs',{},'panel-defs',panel);
    const clip=mk('clipPath',{id:clipId},'axes-clip',defs);
    mk('rect',{x:left,y:top,width:axisW,height:h},'axes-clip-rect',clip);
    const color=function(v){
      if(kind==='flux') return jet(v/spec.fmax);
      if(kind==='velocity') return seismic((v+30)/60);
      return jet((v-30)/140);
    };
    // heatmap
    const heat=mk('g',{'clip-path':'url(#'+clipId+')'},panelName+'-heatmap',panel);
    maps[ri][ci].forEach(function(seg){
      const row=seg[0], start=seg[1];
      for(let k=2;k<seg.length;k++){
        const col=start+k-2;
        const rect=document.createElementNS(NS,'rect');
        rect.setAttribute('x',x(g.ra0-col*g.cell).toFixed(2));
        rect.setAttribute('y',y(g.dec0-row*g.cell).toFixed(2));
        rect.setAttribute('width',(g.cell*g.sx+.3).toFixed(2));
        rect.setAttribute('height',(g.cell*g.sy+.3).toFixed(2));
        rect.setAttribute('fill',color(seg[k]));
        
        
        heat.appendChild(rect);
      }
    });
    // contours
    const sets=contourSets[ri+'-'+ci]||[];
    sets.forEach(function(set){
      set[0].forEach(function(line){
        const pts=line.map(function(p){return x(p[0]).toFixed(1)+','+y(p[1]).toFixed(1);}).join(' ');
        const attrs={points:pts,fill:'none',stroke:set[1],'stroke-width':1.6,'clip-path':'url(#'+clipId+')'};
        if(set[2]) attrs['stroke-dasharray']=set[2];
        mk('polyline',attrs,'contour-line',panel);
      });
    });
    // flux annotations
    if(kind==='flux'){
      if(ri<2){
        const off=ri===0?0:368;
        if(ri===0){
          mk('circle',{cx:152,cy:101,r:20,fill:'none',stroke:'#fff','stroke-width':3.2},'ne-aperture',panel);
          mk('circle',{cx:263.7,cy:197.3,r:20,fill:'none',stroke:'#fff','stroke-width':3.2},'sw-aperture',panel);
          label('NE',130,83.5,14.67,'middle','ne-label',panel,{fill:'#fff','font-weight':'bold'});
          label('SW',300,204,14.67,'middle','sw-label',panel,{fill:'#fff','font-weight':'bold'});
        }
        mk('circle',{cx:296.7,cy:245+off,r:20,fill:'none',stroke:'#e0143c','stroke-width':3.2,'clip-path':'url(#'+clipId+')'},'c1-aperture',panel);
        mk('circle',{cx:344,cy:261.7+off,r:19.5,fill:'none',stroke:'#e0143c','stroke-width':3.2,'clip-path':'url(#'+clipId+')'},'c2-aperture',panel);
        label('C1',261.7,251+off,14.67,'middle','c1-label',panel,{fill:'#f01414','font-weight':'bold'});
        label('C2',312.7,283+off,14.67,'middle','c2-label',panel,{fill:'#f01414','font-weight':'bold'});
        mk('line',{x1:64,x2:104.3,y1:309.3+off,y2:309.3+off,stroke:'#000','stroke-width':1.7},'scale-bar',panel);
        label('180 pc',86,306+off,13.3,'middle','scale-bar-label',panel);
      } else {
        const oy=ri===2?0:384;
        const dc=ri===2?0:-1;
        mk('circle',{cx:302,cy:999.3+oy+dc,r:16,fill:'none',stroke:'#e0143c','stroke-width':3.2,'clip-path':'url(#'+clipId+')'},'c1-aperture',panel);
        mk('circle',{cx:348.5,cy:1011+oy+dc,r:16,fill:'none',stroke:'#e0143c','stroke-width':3.2,'clip-path':'url(#'+clipId+')'},'c2-aperture',panel);
        label('C1',274,1004.5+oy+dc,14.67,'middle','c1-label',panel,{fill:'#f01414','font-weight':'bold'});
        label('C2',325.5,1037+oy+dc,14.67,'middle','c2-label',panel,{fill:'#f01414','font-weight':'bold'});
        mk('line',{x1:76,x2:108.3,y1:1055+oy,y2:1055+oy,stroke:'#000','stroke-width':1.7},'scale-bar',panel);
        label('180 pc',95,1053+oy,13.3,'middle','scale-bar-label',panel);
      }
    }
    // beam
    if(kind==='velocity'){
      const bx=spec.grid==='ne'?468.3:479.3;
      const by=spec.grid==='ne'?top+272.7:(ri===2?1046:1430);
      const br=spec.grid==='ne'?12:15.5;
      mk('circle',{cx:bx,cy:by,r:br,fill:'#dcdcdc',stroke:'#808080','stroke-width':1.3},'beam-size-circle',panel);
    }
    // star
    const sx0=x(g.starRa), sy0=y(g.starDec);
    const starPts=[];
    for(let i=0;i<10;i++){
      const rad=i%2===0?8:3.2;
      const ang=-Math.PI/2+i*Math.PI/5;
      starPts.push((sx0+rad*Math.cos(ang)).toFixed(1)+','+(sy0+rad*Math.sin(ang)).toFixed(1));
    }
    mk('polygon',{points:starPts.join(' '),fill:'#fff',stroke:'#000','stroke-width':1.2},'nucleus-star',panel);
    // frame
    mk('rect',{x:left,y:top,width:axisW,height:h,fill:'none',stroke:AXC,'stroke-width':1.2},'axes-frame',panel);
    g.ticksX.forEach(function(v){
      const px=x(v);
      mk('line',{x1:px,x2:px,y1:spec.bottom,y2:spec.bottom-7,stroke:'#111','stroke-width':1.3},'x-tick',panel);
      mk('line',{x1:px,x2:px,y1:top,y2:top+7,stroke:'#111','stroke-width':1.3},'x-tick-top',panel);
      label(String(v).replace('-','\u2212'),px,spec.bottom+19,16,'middle','x-tick-label',panel);
    });
    g.ticksY.forEach(function(v){
      const py=y(v);
      mk('line',{x1:left,x2:left+7,y1:py,y2:py,stroke:'#111','stroke-width':1.3},'y-tick',panel);
      mk('line',{x1:left+axisW,x2:left+axisW-7,y1:py,y2:py,stroke:'#111','stroke-width':1.3},'y-tick-right',panel);
      label(String(v).replace('-','\u2212'),left-5,py+5.8,16,'end','y-tick-label',panel);
    });
    // titles
    const tinfo=panelTitle(kind,spec);
    const title=mk('text',{x:left+axisW/2,y:top-7,'font-size':18.67,'text-anchor':'middle',fill:'#000'},panelName+'-title',panel);
    const lead=mk('tspan',tinfo.italic?{'font-style':'italic'}:{},'title-lead',title);
    lead.textContent=tinfo.lead;
    const rest=mk('tspan',{},'title-rest',title);
    rest.textContent=tinfo.text;
    label('RA offset (arcsec)',left+axisW/2,spec.bottom+36.5,17.33,'middle','x-axis-title',panel);
    if(ci===0){
      const my=(top+spec.bottom)/2;
      label('DEC offset (arcsec)',22,my,17.33,'middle','y-axis-title',panel,{transform:'rotate(-90 22 '+my+')'});
    }
    // colorbar
    const bx=barLeft[ci], bw=16;
    const gradId='grad-'+ri+'-'+ci;
    const grad=mk('linearGradient',{id:gradId,x1:0,y1:1,x2:0,y2:0},'colorbar-gradient',defs);
    for(let i=0;i<=48;i++){
      const t=i/48;
      mk('stop',{offset:t,'stop-color':kind==='velocity'?seismic(t):jet(t)},'colorbar-stop',grad);
    }
    const bar=mk('g',{},panelName+'-colorbar',panel);
    mk('rect',{x:bx,y:top,width:bw,height:h,fill:'url(#'+gradId+')',stroke:AXC,'stroke-width':1.1},'colorbar-body',bar);
    if(kind==='flux'){
      const by=function(v){return spec.bottom-v/spec.fmax*h;};
      for(let d=0;d<30;d+=10){
        for(let k=1;k<10;k++){
          const v=d+10*Math.log10(k);
          if(v>spec.fmax+.05) continue;
          const major=k===1;
          mk('line',{x1:bx+bw,x2:bx+bw+(major?6:3.5),y1:by(v),y2:by(v),stroke:'#111','stroke-width':major?1.3:.9},major?'colorbar-major-tick':'colorbar-minor-tick',bar);
          if(major){
            const t=mk('text',{x:bx+bw+8,y:by(v)+(d===0?5:6),'font-size':16,fill:'#000'},'colorbar-tick-label',bar);
            const base=mk('tspan',{},'tick-label-base',t);
            base.textContent='10';
            const exp=mk('tspan',{dy:-6.5,'font-size':11.2},'tick-label-exponent',t);
            exp.textContent='\u2212'+(17-d/10);
          }
        }
      }
    } else {
      const list=kind==='velocity'?velTicks:sigTicks;
      const lo=kind==='velocity'?-300:30, hi=kind==='velocity'?300:170;
      list.forEach(function(v){
        const py=spec.bottom-(v-lo)/(hi-lo)*h;
        mk('line',{x1:bx+bw,x2:bx+bw+6,y1:py,y2:py,stroke:'#111','stroke-width':1.3},'colorbar-major-tick',bar);
        label(String(v).replace('-','\u2212'),bx+bw+(kind==='sigma'?8:4),py+5.8,16,'start','colorbar-tick-label',bar);
      });
    }
  }
});
</script>
</body>
</html>
